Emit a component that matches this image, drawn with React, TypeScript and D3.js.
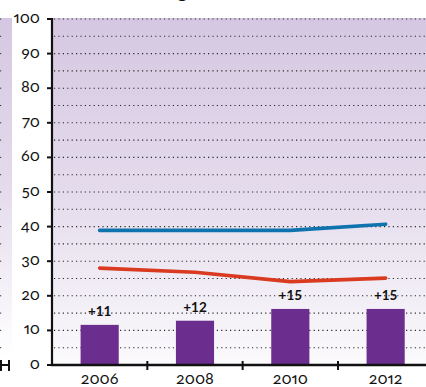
import React from "react";
import * as d3 from "d3";

const years = ["2006", "2008", "2010", "2012"];
const barValues = [11.6, 12.8, 16.2, 16.2];
const barLabels = ["+11", "+12", "+15", "+15"];
const blueValues = [38.9, 38.9, 38.9, 40.7];
const redValues = [28.0, 26.8, 24.1, 25.1];
const yTicks = [0, 10, 20, 30, 40, 50, 60, 70, 80, 90, 100];
const gridValues = d3.range(5, 101, 5);

const W = 426;
const H = 387;
const axisX = 52;
const plotTop = 19;
const baseY = 365;
const plotRight = 433.3;

const FONT = "Lato, 'Noto Sans', sans-serif";
const numStyle = { fontFeatureSettings: "'onum' 1, 'pnum' 1", fontVariantNumeric: "oldstyle-nums proportional-nums" } as React.CSSProperties;

export default function App() {
  const y = d3.scaleLinear().domain([0, 100]).range([baseY, plotTop]);
  const x = d3.scaleBand<string>().domain(years).range([axisX, plotRight]).padding(0);
  const bw = x.bandwidth();
  const cx = (d: string) => (x(d) as number) + bw / 2;
  const barW = bw * 0.4;

  const line = d3
    .line<number>()
    .x((_, i) => cx(years[i]))
    .y((v) => y(v));

  const boundaries = years.slice(1).map((d) => x(d) as number);

  return (
    <svg
      width={W}
      height={H}
      style={{ position: "absolute", left: 0, top: 0 }}
      fontFamily={FONT}
    >
      <defs>
        <linearGradient id="bg" x1="0" y1="0" x2="0" y2="1">
          <stop offset="0%" stopColor="#d5c7e1" />
          <stop offset="50%" stopColor="#e4dbec" />
          <stop offset="100%" stopColor="#fbfafc" />
        </linearGradient>
        <linearGradient id="bgL" x1="0" y1="0" x2="0" y2="1">
          <stop offset="0%" stopColor="#d5c7e1" />
          <stop offset="50%" stopColor="#e4dbec" />
          <stop offset="100%" stopColor="#ffffff" />
        </linearGradient>
      </defs>
      <rect x={0} y={0} width={W} height={H} fill="#ffffff" />

      {/* partial title */}
      <text x={177} y={-2} fontSize={20} fill="#111">g</text>

      {/* left partial panel */}
      <rect x={0} y={18} width={12} height={baseY - 18 - 8} fill="url(#bgL)" />
      {gridValues.map((g) => (
        <line
          key={"lg" + g}
          x1={0}
          x2={4}
          y1={y(g)}
          y2={y(g)}
          stroke="#333"
          strokeWidth={1}
          strokeDasharray="1.2,3.2"
        />
      ))}
      <line x1={0} x2={9} y1={baseY} y2={baseY} stroke="#111" strokeWidth={2} />
      <line x1={1} x2={1} y1={360} y2={371} stroke="#111" strokeWidth={2} />
      <line x1={9} x2={9} y1={360} y2={371} stroke="#111" strokeWidth={2} />

      {/* main plot background */}
      <rect x={axisX} y={18} width={W - axisX} height={baseY - 18} fill="url(#bg)" />

      {/* gridlines */}
      {gridValues.map((g) => (
        <line
          key={"g" + g}
          x1={axisX + 2}
          x2={W}
          y1={y(g)}
          y2={y(g)}
          stroke="#2a2a2a"
          strokeWidth={1.1}
          strokeDasharray="1.2,3.2"
        />
      ))}

      {/* bars */}
      {years.map((d, i) => (
        <rect
          key={"b" + d}
          x={cx(d) - barW / 2}
          y={y(barValues[i])}
          width={barW}
          height={baseY - y(barValues[i])}
          fill="#6b2d8e"
        />
      ))}
      {years.map((d, i) => (
        <text
          key={"bl" + d}
          x={cx(d)}
          y={y(barValues[i]) - 9}
          textAnchor="middle"
          fontSize={13.5}
          fontWeight="bold"
          fill="#111"
        >
          {barLabels[i]}
        </text>
      ))}

      {/* lines */}
      <path
        d={line(redValues) as string}
        fill="none"
        stroke="#d93a20"
        strokeWidth={3.6}
        strokeLinecap="round"
        strokeLinejoin="round"
      />
      <path
        d={line(blueValues) as string}
        fill="none"
        stroke="#0f73ae"
        strokeWidth={3.6}
        strokeLinecap="round"
        strokeLinejoin="round"
      />

      {/* y axis */}
      <line x1={axisX} x2={axisX} y1={plotTop - 1} y2={baseY + 1} stroke="#111" strokeWidth={2.2} />
      {yTicks.map((t) => (
        <g key={"yt" + t}>
          <line x1={axisX - 5} x2={axisX} y1={y(t)} y2={y(t)} stroke="#111" strokeWidth={2} />
          <text
            x={40}
            y={y(t) + 4}
            textAnchor="end"
            fontSize={16}
            fill="#111"
            style={numStyle}
          >
            {t}
          </text>
        </g>
      ))}

      {/* x axis */}
      <line x1={axisX - 1} x2={W} y1={baseY} y2={baseY} stroke="#111" strokeWidth={2.4} />
      {boundaries.map((b, i) => (
        <line key={"xt" + i} x1={b} x2={b} y1={361} y2={370} stroke="#111" strokeWidth={2} />
      ))}
      {years.map((d) => (
        <text
          key={"xl" + d}
          x={cx(d)}
          y={384}
          textAnchor="middle"
          fontSize={16}
          fill="#111"
          style={numStyle}
        >
          {d}
        </text>
      ))}
    </svg>
  );
}
